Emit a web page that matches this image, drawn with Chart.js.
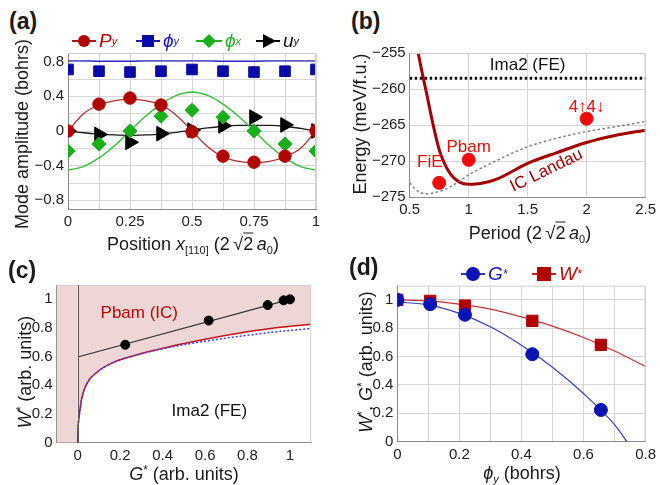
<!DOCTYPE html>
<html>
<head>
<meta charset="utf-8">
<script src="https://cdn.jsdelivr.net/npm/chart.js@4"></script>
<style>
body { margin: 0; background: #fff; font-family: "Liberation Sans", Arial, sans-serif; }
#wrap { position: relative; width: 660px; height: 485px; overflow: hidden; }
canvas { position: absolute; }
.t { position: absolute; white-space: nowrap; color: #1a1a1a; font-size: 18px; line-height: 1; z-index: 2; }
.rot { transform: translate(-50%, -50%) rotate(-90deg); }
.ctr { transform: translate(-50%, -50%); }
.lab { position: absolute; font-weight: bold; font-size: 23px; color: #1a1a1a; z-index: 2; }
.leg { position: absolute; display: flex; align-items: center; font-size: 19px; font-style: italic; white-space: nowrap; z-index: 2; }
.leg svg { margin-right: 3px; }
sub { font-size: 11px; vertical-align: -4px; }
sup { font-size: 12px; vertical-align: 6px; }
.ov { text-decoration: overline; }
</style>
</head>
<body>
<div id="wrap">
  <canvas id="ca" width="330" height="200" style="left:0;top:40px"></canvas>
  <canvas id="cb" width="330" height="200" style="left:330px;top:40px"></canvas>
  <canvas id="cc" width="330" height="195" style="left:0;top:270px"></canvas>
  <canvas id="cd" width="330" height="195" style="left:330px;top:270px"></canvas>

  <div class="lab" style="left:9px;top:8px">(a)</div>
  <div class="lab" style="left:351px;top:8px">(b)</div>
  <div class="lab" style="left:8px;top:257px">(c)</div>
  <div class="lab" style="left:349px;top:254px">(d)</div>

  <div class="leg" style="left:72px;top:30px;color:#c00000">
    <svg width="24" height="16"><line x1="0" y1="8" x2="24" y2="8" stroke="#b01515" stroke-width="2"/><circle cx="12" cy="8" r="6" fill="#b00000"/></svg>P<sub>y</sub>
  </div>
  <div class="leg" style="left:136px;top:30px;color:#1515c8">
    <svg width="24" height="16"><line x1="0" y1="8" x2="24" y2="8" stroke="#1a1ab0" stroke-width="2"/><rect x="6" y="2" width="12" height="12" fill="#0a0aa8"/></svg>ϕ<sub>y</sub>
  </div>
  <div class="leg" style="left:196px;top:30px;color:#20b020">
    <svg width="26" height="16"><line x1="0" y1="8" x2="26" y2="8" stroke="#20b020" stroke-width="2"/><polygon points="13,1 20,8 13,15 6,8" fill="#18b018"/></svg>ϕ<sub>x</sub>
  </div>
  <div class="leg" style="left:256px;top:30px;color:#111">
    <svg width="24" height="16"><line x1="0" y1="8" x2="24" y2="8" stroke="#000" stroke-width="2"/><polygon points="7,1 20,8 7,15" fill="#000"/></svg>u<sub>y</sub>
  </div>

  <div class="leg" style="left:461px;top:263px;color:#1515c8">
    <svg width="24" height="18"><line x1="0" y1="9" x2="24" y2="9" stroke="#2a35c0" stroke-width="2"/><circle cx="12" cy="9" r="7" fill="#0a14b4"/></svg>G<sup>*</sup>
  </div>
  <div class="leg" style="left:532px;top:263px;color:#c00000">
    <svg width="24" height="18"><line x1="0" y1="9" x2="24" y2="9" stroke="#c02020" stroke-width="2"/><rect x="5" y="2" width="14" height="14" fill="#b00000"/></svg>W<sup>*</sup>
  </div>

  <div class="t rot" style="left:22px;top:134px">Mode amplitude (bohrs)</div>
  <div class="t ctr" style="left:193px;top:245px">Position <i>x</i><sub>[110]</sub> (2&thinsp;√<span class="ov">2</span>&thinsp;<i>a</i><sub>0</sub>)</div>
  <div class="t rot" style="left:360px;top:124px">Energy (meV/f.u.)</div>
  <div class="t ctr" style="left:530px;top:234px">Period (2&thinsp;√<span class="ov">2</span>&thinsp;<i>a</i><sub>0</sub>)</div>
  <div class="t rot" style="left:24px;top:372px"><i>W</i><sup>*</sup> (arb. units)</div>
  <div class="t ctr" style="left:184px;top:473px"><i>G</i><sup>*</sup> (arb. units)</div>
  <div class="t rot" style="left:365px;top:362px"><i>W</i><sup>*</sup>, <i>G</i><sup>*</sup> (arb. units)</div>
  <div class="t ctr" style="left:522px;top:474px"><i>ϕ<sub>y</sub></i> (bohrs)</div>
</div>

<script>
// ---- (a) mode amplitudes along the [110] direction
var posX = [0, 0.125, 0.25, 0.375, 0.5, 0.625, 0.75, 0.875, 1];
var pyPts = [0, 0.31, 0.38, 0.30, -0.01, -0.29, -0.36, -0.29, 0];
var phiYPts = [0.71, 0.69, 0.68, 0.69, 0.71, 0.69, 0.68, 0.69, 0.71];
var phiXPts = [-0.23, -0.15, 0, 0.17, 0.24, 0.16, 0, -0.15, -0.23];
var uyPts = [0, -0.04, -0.13, -0.03, 0.01, 0.06, 0.16, 0.07, 0];

var fitX = [0, 0.0625, 0.125, 0.1875, 0.25, 0.3125, 0.375, 0.4375, 0.5, 0.5625, 0.625, 0.6875, 0.75, 0.8125, 0.875, 0.9375, 1];
var pyFit = [0, 0.2, 0.3, 0.35, 0.365, 0.35, 0.3, 0.18, 0, -0.18, -0.3, -0.35, -0.365, -0.35, -0.3, -0.2, 0];
var phiYFit = [0.81, 0.81, 0.805, 0.805, 0.805, 0.81, 0.81, 0.81, 0.81, 0.81, 0.805, 0.805, 0.805, 0.81, 0.81, 0.81, 0.81];
var phiXFit = [-0.45, -0.41, -0.31, -0.17, 0, 0.17, 0.31, 0.41, 0.45, 0.41, 0.31, 0.17, 0, -0.17, -0.31, -0.41, -0.45];
var uyFit = [0, -0.02, -0.035, -0.045, -0.05, -0.045, -0.035, -0.015, 0.01, 0.035, 0.055, 0.065, 0.065, 0.065, 0.055, 0.03, 0];

var aTickX = [0, 0.125, 0.25, 0.375, 0.5, 0.625, 0.75, 0.875, 1];
var aLabelX = [0, 0.25, 0.5, 0.75, 1];
var aTickY = [-0.8, -0.6, -0.4, -0.2, 0, 0.2, 0.4, 0.6, 0.8];
var aLabelY = [-0.8, -0.4, 0, 0.4, 0.8];

// ---- (b) energy vs period
var landauPeriod = [0.55, 0.572, 0.6, 0.642, 0.698, 0.754, 0.838, 0.922, 1.0, 1.1, 1.25, 1.5, 1.75, 2.0, 2.25, 2.5];
var landauEnergy = [-253.3, -255, -257.3, -260.5, -264.9, -268.6, -271.6, -272.9, -273.2, -273.1, -272.4, -270.3, -268.8, -267.4, -266.4, -265.7];
var dashPeriod = [0.5, 0.55, 0.6, 0.65, 0.7, 0.8, 0.9, 1.0, 1.25, 1.5, 1.75, 2.0, 2.25, 2.5];
var dashEnergy = [-273.0, -273.9, -274.4, -274.5, -274.4, -273.9, -273.0, -271.9, -269.8, -268.0, -266.8, -265.9, -265.2, -264.5];
var ima2Energy = -258.5;
var phaseNames = ['FiE', 'Pbam', '4↑4↓'];
var phasePeriod = [0.75, 1, 2];
var phaseEnergy = [-273.0, -269.8, -264.1];

var bTickX = [0.5, 1, 1.5, 2, 2.5];
var bTickY = [-275, -270, -265, -260, -255];

// ---- (d) G* and W* vs phi_y (points reused in (c))
var phiY = [0, 0.106, 0.218, 0.435, 0.656];
var gStar = [1.0, 0.97, 0.895, 0.617, 0.224];
var wStar = [1.0, 0.993, 0.96, 0.852, 0.683];
var gFitPhi = [0, 0.1, 0.2, 0.3, 0.4, 0.5, 0.6, 0.7, 0.74];
var gFit = [0.985, 0.965, 0.905, 0.81, 0.68, 0.525, 0.34, 0.12, 0];
var wFitPhi = [0, 0.1, 0.2, 0.3, 0.4, 0.5, 0.6, 0.7, 0.8];
var wFit = [1.0, 0.993, 0.97, 0.935, 0.88, 0.815, 0.735, 0.64, 0.53];

var dTickX = [0, 0.1, 0.2, 0.3, 0.4, 0.5, 0.6, 0.7, 0.8];
var dLabelX = [0, 0.2, 0.4, 0.6, 0.8];
var dTickY = [0, 0.2, 0.4, 0.6, 0.8, 1];

// ---- (c) phase boundary W*(G*)
var boundG = [0, 0.001, 0.004, 0.008, 0.019, 0.042, 0.089, 0.168, 0.3, 0.45, 0.6, 0.75, 0.9, 1.1];
var boundW = [0, 0.08, 0.15, 0.2, 0.31, 0.41, 0.49, 0.56, 0.622, 0.676, 0.722, 0.762, 0.795, 0.827];
var landauW = [0, 0.08, 0.15, 0.2, 0.31, 0.41, 0.49, 0.56, 0.62, 0.67, 0.708, 0.74, 0.768, 0.797];
var trendG = [0, 1];
var trendW = [0.598, 1.0];

var cTickX = [0, 0.2, 0.4, 0.6, 0.8, 1];
var cTickY = [0, 0.2, 0.4, 0.6, 0.8, 1];

// ------------------------------------------------------------
var tickFont = { family: 'Liberation Sans', size: 15 };

function pts(xs, ys) {
    return xs.map(function (x, i) { return { x: x, y: ys[i] }; });
}

function fmt(v) {
    return String(+v.toFixed(4)).replace('-', '\u2212');
}

function axis(min, max, ticks, labels, gridOn) {
    return {
        type: 'linear', min: min, max: max,
        afterBuildTicks: function (s) {
            s.ticks = ticks.map(function (v) { return { value: v }; });
        },
        ticks: {
            autoSkip: false, maxRotation: 0, padding: 4, color: '#222', font: tickFont,
            callback: function (v) {
                return labels.indexOf(+(+v).toFixed(4)) < 0 ? '' : fmt(+v);
            }
        },
        grid: { display: gridOn, color: '#d6d6d6', lineWidth: 1, drawTicks: false },
        border: { display: true, color: '#8a8a8a', width: 1 }
    };
}

// box: canvas rectangle on the page, area: wanted plot rectangle on the page
function layoutFor(box, area) {
    return {
        padding: { top: area.top - box.top, right: box.left + box.w - area.right, left: 0, bottom: 0 },
        yWidth: area.left - box.left,
        xHeight: box.top + box.h - area.bottom
    };
}

var frame = {
    id: 'frame',
    afterDatasetsDraw: function (chart) {
        var a = chart.chartArea, ctx = chart.ctx;
        ctx.save();
        ctx.strokeStyle = '#cfcfcf';
        ctx.lineWidth = 1;
        ctx.beginPath();
        ctx.moveTo(a.left, a.top + 0.5);
        ctx.lineTo(a.right - 0.5, a.top + 0.5);
        ctx.lineTo(a.right - 0.5, a.bottom);
        ctx.stroke();
        ctx.restore();
    }
};

// dark vertical line at x = 0 in panel (c)
var zeroLine = {
    id: 'zeroLine',
    afterDatasetsDraw: function (chart) {
        var a = chart.chartArea, ctx = chart.ctx;
        var px = Math.round(chart.scales.x.getPixelForValue(0)) + 0.5;
        ctx.save();
        ctx.strokeStyle = '#555';
        ctx.lineWidth = 1;
        ctx.beginPath();
        ctx.moveTo(px, a.top);
        ctx.lineTo(px, a.bottom);
        ctx.stroke();
        ctx.restore();
    }
};

function notes(items) {
    return {
        id: 'notes',
        afterDatasetsDraw: function (chart) {
            var ctx = chart.ctx;
            items.forEach(function (n) {
                var px = chart.scales.x.getPixelForValue(n.x);
                var py = chart.scales.y.getPixelForValue(n.y);
                ctx.save();
                ctx.translate(px, py);
                ctx.rotate((n.rot || 0) * Math.PI / 180);
                ctx.font = '17px "Liberation Sans"';
                ctx.fillStyle = n.color;
                ctx.textAlign = 'center';
                ctx.textBaseline = 'middle';
                ctx.fillText(n.text, 0, 0);
                ctx.restore();
            });
        }
    };
}

function curve(data, color, width, dash, order) {
    return {
        type: 'line', data: data, borderColor: color, borderWidth: width, borderDash: dash || [],
        pointRadius: 0, showLine: true, fill: false, cubicInterpolationMode: 'monotone',
        order: order === undefined ? 1 : order
    };
}

function marks(data, color, style, radius, rot) {
    return {
        type: 'scatter', data: data, showLine: false, pointStyle: style, pointRadius: radius,
        pointRotation: rot || 0, pointBackgroundColor: color, pointBorderColor: color, pointBorderWidth: 1,
        pointHoverRadius: radius, order: -1
    };
}

function makeChart(id, box, area, datasets, xAx, yAx, extra) {
    var L = layoutFor(box, area);
    xAx.afterFit = function (s) { s.height = L.xHeight; };
    yAx.afterFit = function (s) { s.width = L.yWidth; };
    new Chart(document.getElementById(id), {
        type: 'scatter',
        data: { datasets: datasets },
        options: {
            responsive: false, animation: false, devicePixelRatio: 1,
            layout: { padding: L.padding },
            plugins: { legend: { display: false }, tooltip: { enabled: false } },
            scales: { x: xAx, y: yAx }
        },
        plugins: [frame].concat(extra || [])
    });
}

// (a)
makeChart('ca', { left: 0, top: 40, w: 330, h: 200 }, { left: 68, top: 53, right: 316, bottom: 209 }, [
    curve(pts(fitX, phiYFit), '#2b2bc0', 1.3),
    curve(pts(fitX, pyFit), '#b52a2a', 1.3),
    curve(pts(fitX, phiXFit), '#2fbf2f', 1.3),
    curve(pts(fitX, uyFit), '#1a1a1a', 1.3),
    marks(pts(posX, phiYPts), '#0a0aa8', 'rect', 7.5),
    marks(pts(posX, pyPts), '#b00000', 'circle', 6.2),
    marks(pts(posX, phiXPts), '#18b018', 'rectRot', 7),
    marks(pts(posX, uyPts), '#000000', 'triangle', 8.5, 90)
], axis(0, 1, aTickX, aLabelX, true), axis(-0.9, 0.9, aTickY, aLabelY, true));

// (b)
makeChart('cb', { left: 330, top: 40, w: 330, h: 200 }, { left: 409.7, top: 51, right: 648.3, bottom: 197.3 }, [
    curve(pts([0.5, 2.5], [ima2Energy, ima2Energy]), '#111111', 3, [2.5, 2.5]),
    curve(pts(dashPeriod, dashEnergy), '#7a7a7a', 1.4, [2.5, 2.5]),
    curve(pts(landauPeriod, landauEnergy), '#a40000', 3),
    marks(pts(phasePeriod, phaseEnergy), '#f00a0a', 'circle', 6.5)
], axis(0.5, 2.5, bTickX, bTickX, true), axis(-275, -255, bTickY, bTickY, true), [notes([
    { text: 'Ima2 (FE)', x: 1.5, y: -256.7, color: '#111' },
    { text: phaseNames[0], x: 0.67, y: -270.2, color: '#f00a0a' },
    { text: phaseNames[1], x: 1.0, y: -268.1, color: '#f00a0a' },
    { text: phaseNames[2], x: 2.0, y: -262.5, color: '#f00a0a' },
    { text: 'IC Landau', x: 1.66, y: -271.3, color: '#a40000', rot: -26 }
])]);

// (c)
var boundary = curve(pts(boundG, boundW), '#cc1111', 1.5, [], 2);
boundary.fill = 'end';
boundary.backgroundColor = '#efd6d6';
var trend = curve(pts(trendG, trendW), '#333333', 1.2, [], 0);
trend.cubicInterpolationMode = 'default';
trend.tension = 0;
makeChart('cc', { left: 0, top: 270, w: 330, h: 195 }, { left: 56.5, top: 285, right: 311.2, bottom: 442.7 }, [
    {
        type: 'line', data: pts([-0.1, 0], [0, 0]), borderWidth: 0, pointRadius: 0,
        fill: 'end', backgroundColor: '#efd6d6', order: 3
    },
    curve(pts(boundG, landauW), '#3a3aff', 1.5, [2, 2], 1),
    boundary,
    trend,
    marks(pts(gStar, wStar), '#000000', 'circle', 4.5)
], axis(-0.1, 1.1, cTickX, cTickX, false), axis(0, 1.1, cTickY, cTickY, false), [zeroLine, notes([
    { text: 'Pbam (IC)', x: 0.29, y: 0.9, color: '#c00000' },
    { text: 'Ima2 (FE)', x: 0.62, y: 0.216, color: '#111' }
])]);

// (d)
makeChart('cd', { left: 330, top: 270, w: 330, h: 195 }, { left: 397.3, top: 285.7, right: 649, bottom: 441.7 }, [
    curve(pts(gFitPhi, gFit), '#3440c4', 1.2),
    curve(pts(wFitPhi, wFit), '#c83232', 1.2),
    marks(pts(phiY, gStar), '#0a14b4', 'circle', 6.5),
    marks(pts(phiY, wStar), '#b00000', 'rect', 8)
], axis(0, 0.8, dTickX, dLabelX, true), axis(0, 1.1, dTickY, dTickY, true));
</script>
</body>
</html>
